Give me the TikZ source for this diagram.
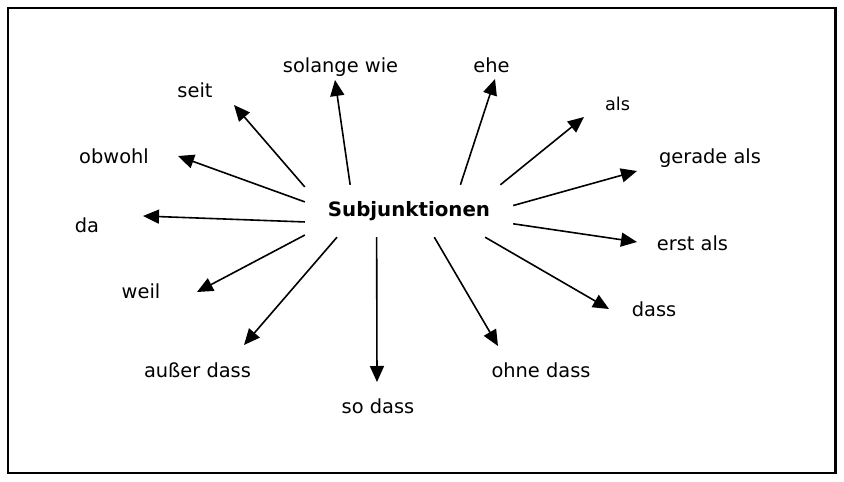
\documentclass[tikz,border=0pt]{standalone}
\usepackage{fontspec}
\setmainfont{DejaVu Sans}
\usetikzlibrary{arrows.meta}

\begin{document}
\begin{tikzpicture}[x=1pt,y=-1pt,
  wort/.style={anchor=base, inner sep=0pt, font=\fontsize{19.4}{23}\selectfont},
  pfeil/.style={line width=1.6pt, -{Triangle[length=16pt,width=14pt]}}]
\useasboundingbox (0,0) rectangle (844,482);
\draw[line width=2.4pt] (8,8) rectangle (835.5,472.7);

\node[rectangle, minimum width=208pt, minimum height=52pt, inner sep=0pt, font=\bfseries\fontsize{19.8}{23}\selectfont] (sub) at (409,211) {Subjunktionen};

\node[wort] (solange) at (340.5,72) {solange wie};
\node[wort] (ehe) at (491.5,72) {ehe};
\node[wort, font=\fontsize{17.7}{21}\selectfont] (als) at (617.5,110) {als};
\node[wort] (gerade) at (710,163) {gerade als};
\node[wort] (erst) at (692.5,250) {erst als};
\node[wort] (dass) at (654,316) {dass};
\node[wort] (ohne) at (541,377) {ohne dass};
\node[wort] (sodass) at (378,413) {so dass};
\node[wort] (ausser) at (197.5,377) {außer dass};
\node[wort] (weil) at (141,298) {weil};
\node[wort] (da) at (87,232) {da};
\node[wort] (obwohl) at (114,163) {obwohl};
\node[wort] (seit) at (195,97) {seit};

\coordinate (solange-p) at (335,80);
\coordinate (ehe-p) at (495,79);
\coordinate (als-p) at (584,117);
\coordinate (gerade-p) at (637,171);
\coordinate (erst-p) at (637,242);
\coordinate (dass-p) at (609,309);
\coordinate (ohne-p) at (498,346);
\coordinate (sodass-p) at (377,382);
\coordinate (ausser-p) at (244,345);
\coordinate (weil-p) at (197,292);
\coordinate (da-p) at (143,216);
\coordinate (obwohl-p) at (178,156);
\coordinate (seit-p) at (234,105);

\draw[pfeil] (sub.156.5) -- (solange-p);
\draw[pfeil] (sub.27.2) -- (ehe-p);
\draw[pfeil] (sub.16.8) -- (als-p);
\draw[pfeil] (sub.3.3) -- (gerade-p);
\draw[pfeil] (sub.-7.8) -- (erst-p);
\draw[pfeil] (sub.-19.5) -- (dass-p);
\draw[pfeil] (sub.-46.8) -- (ohne-p);
\draw[pfeil] (sub.219.1) -- (sodass-p);
\draw[pfeil] (sub.200.6) -- (ausser-p);
\draw[pfeil] (sub.193) -- (weil-p);
\draw[pfeil] (sub.186) -- (da-p);
\draw[pfeil] (sub.175.6) -- (obwohl-p);
\draw[pfeil] (sub.167.5) -- (seit-p);
\end{tikzpicture}
\end{document}
